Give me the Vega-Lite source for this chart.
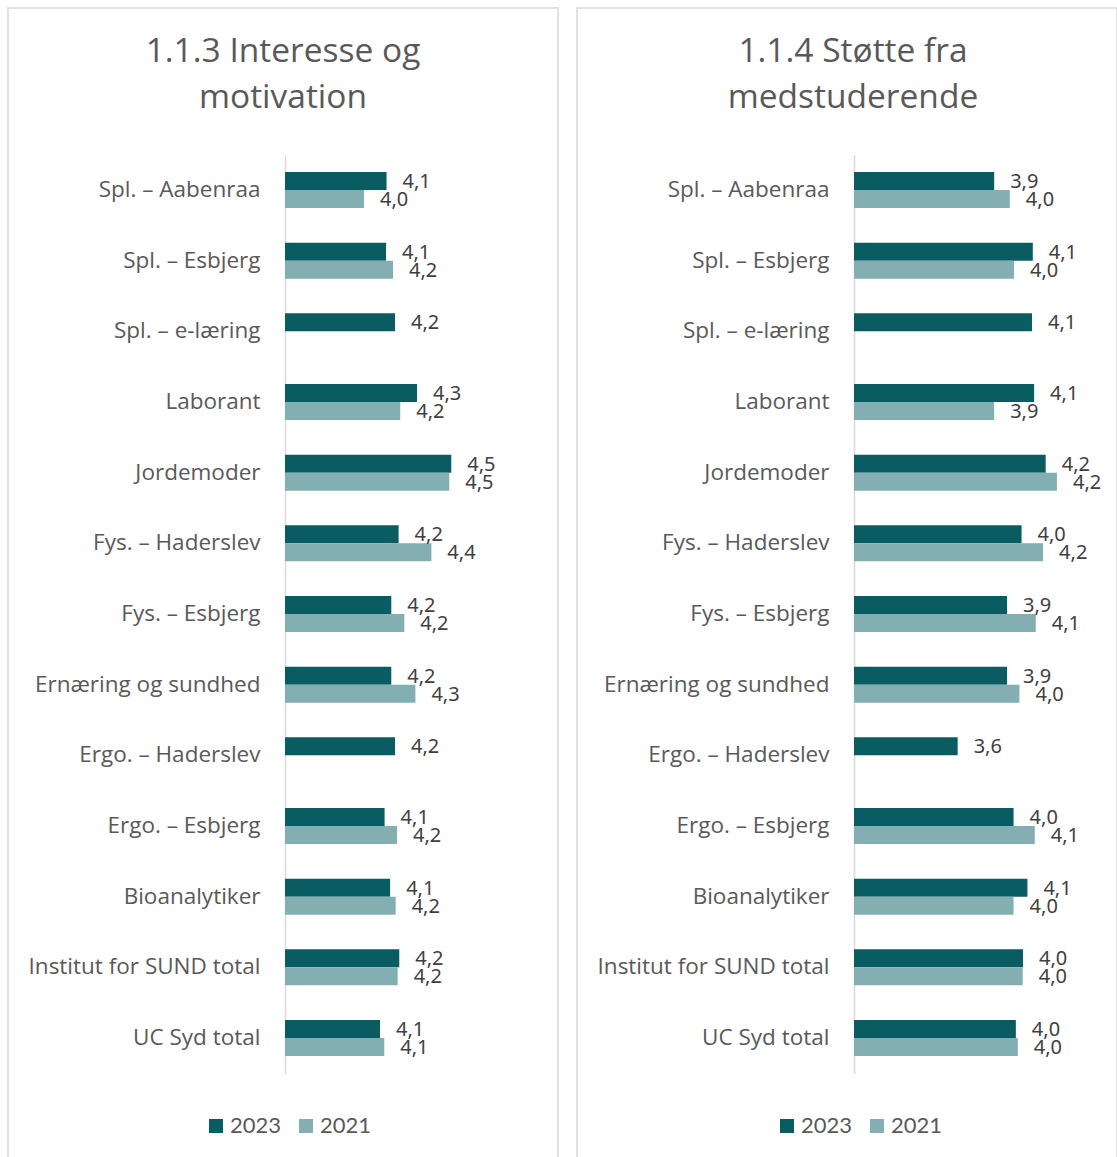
{
  "$schema": "https://vega.github.io/schema/vega-lite/v6.json",
  "padding": {"left": 7, "top": 7, "right": 0, "bottom": 0},
  "background": "white",
  "config": {
    "locale": {"number": {"decimal": ",", "thousands": ".", "grouping": [3], "currency": ["", " kr."]}},
    "view": {"stroke": "#d9d9d9", "strokeWidth": 1.5},
    "concat": {"spacing": 17}
  },
  "datasets": {
    "interesse": [
      {"kategori": "Spl. – Aabenraa", "aar": "2023", "vaerdi": 4.123},
      {"kategori": "Spl. – Aabenraa", "aar": "2021", "vaerdi": 3.985},
      {"kategori": "Spl. – Esbjerg", "aar": "2023", "vaerdi": 4.120},
      {"kategori": "Spl. – Esbjerg", "aar": "2021", "vaerdi": 4.163},
      {"kategori": "Spl. – e-læring", "aar": "2023", "vaerdi": 4.175},
      {"kategori": "Laborant", "aar": "2023", "vaerdi": 4.310},
      {"kategori": "Laborant", "aar": "2021", "vaerdi": 4.207},
      {"kategori": "Jordemoder", "aar": "2023", "vaerdi": 4.520},
      {"kategori": "Jordemoder", "aar": "2021", "vaerdi": 4.508},
      {"kategori": "Fys. – Haderslev", "aar": "2023", "vaerdi": 4.197},
      {"kategori": "Fys. – Haderslev", "aar": "2021", "vaerdi": 4.398},
      {"kategori": "Fys. – Esbjerg", "aar": "2023", "vaerdi": 4.152},
      {"kategori": "Fys. – Esbjerg", "aar": "2021", "vaerdi": 4.232},
      {"kategori": "Ernæring og sundhed", "aar": "2023", "vaerdi": 4.152},
      {"kategori": "Ernæring og sundhed", "aar": "2021", "vaerdi": 4.300},
      {"kategori": "Ergo. – Haderslev", "aar": "2023", "vaerdi": 4.175},
      {"kategori": "Ergo. – Esbjerg", "aar": "2023", "vaerdi": 4.111},
      {"kategori": "Ergo. – Esbjerg", "aar": "2021", "vaerdi": 4.187},
      {"kategori": "Bioanalytiker", "aar": "2023", "vaerdi": 4.145},
      {"kategori": "Bioanalytiker", "aar": "2021", "vaerdi": 4.179},
      {"kategori": "Institut for SUND total", "aar": "2023", "vaerdi": 4.201},
      {"kategori": "Institut for SUND total", "aar": "2021", "vaerdi": 4.191},
      {"kategori": "UC Syd total", "aar": "2023", "vaerdi": 4.083},
      {"kategori": "UC Syd total", "aar": "2021", "vaerdi": 4.109}
    ],
    "stoette": [
      {"kategori": "Spl. – Aabenraa", "aar": "2023", "vaerdi": 3.860},
      {"kategori": "Spl. – Aabenraa", "aar": "2021", "vaerdi": 3.956},
      {"kategori": "Spl. – Esbjerg", "aar": "2023", "vaerdi": 4.097},
      {"kategori": "Spl. – Esbjerg", "aar": "2021", "vaerdi": 3.982},
      {"kategori": "Spl. – e-læring", "aar": "2023", "vaerdi": 4.092},
      {"kategori": "Laborant", "aar": "2023", "vaerdi": 4.105},
      {"kategori": "Laborant", "aar": "2021", "vaerdi": 3.860},
      {"kategori": "Jordemoder", "aar": "2023", "vaerdi": 4.176},
      {"kategori": "Jordemoder", "aar": "2021", "vaerdi": 4.245},
      {"kategori": "Fys. – Haderslev", "aar": "2023", "vaerdi": 4.028},
      {"kategori": "Fys. – Haderslev", "aar": "2021", "vaerdi": 4.160},
      {"kategori": "Fys. – Esbjerg", "aar": "2023", "vaerdi": 3.939},
      {"kategori": "Fys. – Esbjerg", "aar": "2021", "vaerdi": 4.115},
      {"kategori": "Ernæring og sundhed", "aar": "2023", "vaerdi": 3.939},
      {"kategori": "Ernæring og sundhed", "aar": "2021", "vaerdi": 4.015},
      {"kategori": "Ergo. – Haderslev", "aar": "2023", "vaerdi": 3.636},
      {"kategori": "Ergo. – Esbjerg", "aar": "2023", "vaerdi": 3.979},
      {"kategori": "Ergo. – Esbjerg", "aar": "2021", "vaerdi": 4.109},
      {"kategori": "Bioanalytiker", "aar": "2023", "vaerdi": 4.064},
      {"kategori": "Bioanalytiker", "aar": "2021", "vaerdi": 3.979},
      {"kategori": "Institut for SUND total", "aar": "2023", "vaerdi": 4.037},
      {"kategori": "Institut for SUND total", "aar": "2021", "vaerdi": 4.035},
      {"kategori": "UC Syd total", "aar": "2023", "vaerdi": 3.993},
      {"kategori": "UC Syd total", "aar": "2021", "vaerdi": 4.005}
    ]
  },
  "resolve": {
    "scale": {"x": "independent", "y": "independent", "color": "independent"},
    "legend": {"color": "independent"}
  },
  "hconcat": [
    {
      "width": 550,
      "height": 1152,
      "data": {"name": "interesse"},
      "title": {
        "text": ["1.1.3 Interesse og", "motivation"],
        "font": "Open Sans", "fontSize": 33.5, "fontWeight": "normal", "color": "#595959",
        "lineHeight": 46, "anchor": "middle", "offset": -107
      },
      "encoding": {
        "y": {
          "field": "kategori", "type": "nominal",
          "sort": ["Spl. – Aabenraa", "Spl. – Esbjerg", "Spl. – e-læring", "Laborant", "Jordemoder", "Fys. – Haderslev", "Fys. – Esbjerg", "Ernæring og sundhed", "Ergo. – Haderslev", "Ergo. – Esbjerg", "Bioanalytiker", "Institut for SUND total", "UC Syd total"],
          "scale": {"range": [146.7, 1065.3], "paddingInner": 0.49, "paddingOuter": 0.245},
          "axis": {
            "title": null, "offset": -277, "ticks": false, "tickSize": 0,
            "domainColor": "#d9d9d9", "domainWidth": 1.5,
            "labelFont": "Open Sans", "labelFontSize": 22.5, "labelColor": "#595959",
            "labelPadding": 25, "labelLimit": 400
          }
        },
        "yOffset": {"field": "aar", "type": "nominal", "sort": ["2023", "2021"], "scale": {"paddingInner": 0, "paddingOuter": 0}},
        "x": {
          "field": "vaerdi", "type": "quantitative",
          "scale": {"domain": [3.5, 5.0], "range": [277, 521.5], "zero": false, "nice": false},
          "axis": null
        }
      },
      "layer": [
        {
          "mark": {"type": "bar"},
          "encoding": {
            "x2": {"datum": 3.5},
            "color": {
              "field": "aar", "type": "nominal",
              "scale": {"domain": ["2023", "2021"], "range": ["#0a5c63", "#83afb2"]},
              "legend": {
                "title": null, "orient": "none", "direction": "horizontal",
                "legendX": 197, "legendY": 1107,
                "symbolType": "square", "symbolSize": 196, "symbolStrokeWidth": 0,
                "labelFont": "Lato", "labelFontSize": 22, "labelColor": "#595959",
                "labelOffset": 3, "columnPadding": 13, "padding": 0
              }
            }
          }
        },
        {
          "mark": {"type": "text", "align": "left", "baseline": "middle", "dx": 16, "dy": 1, "font": "Noto Sans", "fontSize": 20, "color": "#404040"},
          "encoding": {
            "text": {"field": "vaerdi", "type": "quantitative", "format": ".1f"}
          }
        }
      ]
    },
    {
      "width": 540,
      "height": 1152,
      "data": {"name": "stoette"},
      "title": {
        "text": ["1.1.4 Støtte fra", "medstuderende"],
        "font": "Open Sans", "fontSize": 33.5, "fontWeight": "normal", "color": "#595959",
        "lineHeight": 46, "anchor": "middle", "offset": -107, "dx": 6
      },
      "encoding": {
        "y": {
          "field": "kategori", "type": "nominal",
          "sort": ["Spl. – Aabenraa", "Spl. – Esbjerg", "Spl. – e-læring", "Laborant", "Jordemoder", "Fys. – Haderslev", "Fys. – Esbjerg", "Ernæring og sundhed", "Ergo. – Haderslev", "Ergo. – Esbjerg", "Bioanalytiker", "Institut for SUND total", "UC Syd total"],
          "scale": {"range": [146.7, 1065.3], "paddingInner": 0.49, "paddingOuter": 0.245},
          "axis": {
            "title": null, "offset": -277, "ticks": false, "tickSize": 0,
            "domainColor": "#d9d9d9", "domainWidth": 1.5,
            "labelFont": "Open Sans", "labelFontSize": 22.5, "labelColor": "#595959",
            "labelPadding": 25, "labelLimit": 400
          }
        },
        "yOffset": {"field": "aar", "type": "nominal", "sort": ["2023", "2021"], "scale": {"paddingInner": 0, "paddingOuter": 0}},
        "x": {
          "field": "vaerdi", "type": "quantitative",
          "scale": {"domain": [3.0, 4.5], "range": [277, 521.5], "zero": false, "nice": false},
          "axis": null
        }
      },
      "layer": [
        {
          "mark": {"type": "bar"},
          "encoding": {
            "x2": {"datum": 3.0},
            "color": {
              "field": "aar", "type": "nominal",
              "scale": {"domain": ["2023", "2021"], "range": ["#0a5c63", "#83afb2"]},
              "legend": {
                "title": null, "orient": "none", "direction": "horizontal",
                "legendX": 199, "legendY": 1107,
                "symbolType": "square", "symbolSize": 196, "symbolStrokeWidth": 0,
                "labelFont": "Lato", "labelFontSize": 22, "labelColor": "#595959",
                "labelOffset": 3, "columnPadding": 13, "padding": 0
              }
            }
          }
        },
        {
          "mark": {"type": "text", "align": "left", "baseline": "middle", "dx": 16, "dy": 1, "font": "Noto Sans", "fontSize": 20, "color": "#404040"},
          "encoding": {
            "text": {"field": "vaerdi", "type": "quantitative", "format": ".1f"}
          }
        }
      ]
    }
  ]
}
